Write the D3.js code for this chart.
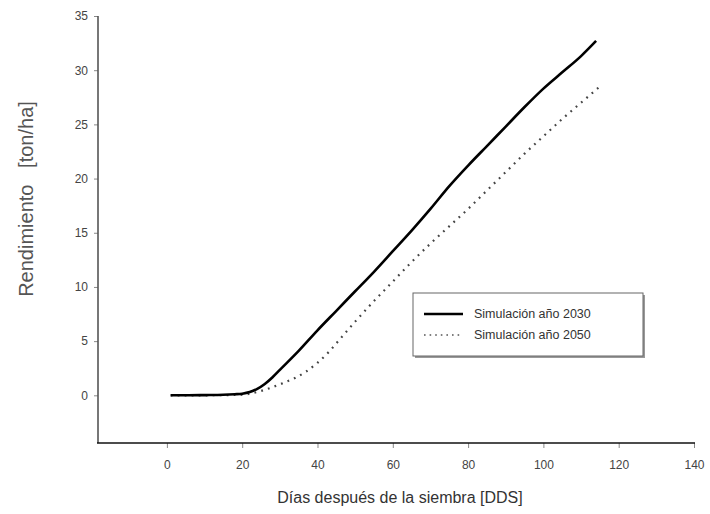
<!DOCTYPE html>
<html><head><meta charset="utf-8">
<script src="https://cdn.jsdelivr.net/npm/d3@7"></script>
<style>body{margin:0;background:#fff}</style>
</head><body>
<svg id="c" width="710" height="514"></svg>
<script>
const days2030 = [1,5,10,15,18,20,22,24,26,28,30,35,40,45,50,55,60,65,70,75,80,85,90,95,100,105,110,114];
const yield2030 = [0,0,0.02,0.05,0.1,0.15,0.3,0.6,1.05,1.65,2.35,4.1,6.0,7.8,9.6,11.4,13.3,15.2,17.2,19.3,21.2,23.0,24.8,26.6,28.3,29.8,31.3,32.7];
const days2050 = [1,5,10,15,20,22,25,28,31,34,37,40,43,46,50,55,60,65,70,75,80,85,90,95,100,105,110,115];
const yield2050 = [0,0,0,0.02,0.05,0.15,0.4,0.75,1.15,1.6,2.2,3.0,4.0,5.2,6.8,8.7,10.5,12.3,14.0,15.6,17.2,18.9,20.6,22.3,23.9,25.5,27.0,28.5];
const xTicks = [0,20,40,60,80,100,120,140];
const yTicks = [0,5,10,15,20,25,30,35];
const seriesNames = ["Simulación año 2030","Simulación año 2050"];

const svg = d3.select("#c");
const x = d3.scaleLinear().domain([-18.3,140]).range([98,694]);
const y = d3.scaleLinear().domain([-4.4,35]).range([443,16]);
const font = "Arial, 'Liberation Sans', sans-serif";

// y axis
const ya = svg.append("g").attr("transform","translate(98,0)")
  .call(d3.axisLeft(y).tickValues(yTicks).tickSize(4).tickPadding(6).tickSizeOuter(0));
ya.select(".domain").remove();
ya.selectAll(".tick line").attr("stroke","#888");
ya.selectAll(".tick text").attr("fill","#444").style("font-family",font).style("font-size","12px");
svg.append("line").attr("x1",98).attr("x2",98).attr("y1",y(35)).attr("y2",443)
  .attr("stroke","#555").attr("stroke-width",1.6);

// x axis
const xa = svg.append("g").attr("transform","translate(0,443)")
  .call(d3.axisBottom(x).tickValues(xTicks).tickSize(5).tickPadding(12).tickSizeOuter(0));
xa.select(".domain").remove();
xa.selectAll(".tick line").attr("stroke","#888");
xa.selectAll(".tick text").attr("fill","#444").style("font-family",font).style("font-size","12px");
svg.append("line").attr("x1",97).attr("x2",695).attr("y1",443).attr("y2",443)
  .attr("stroke","#111").attr("stroke-width",1.6);

// lines
const line = d3.line().x(d=>x(d[0])).y(d=>y(d[1])).curve(d3.curveMonotoneX);
svg.append("path").datum(days2050.map((d,i)=>[d,yield2050[i]]))
  .attr("d",line).attr("fill","none").attr("stroke","#444").attr("stroke-width",2.2)
  .attr("stroke-dasharray","1.8,5.2");
svg.append("path").datum(days2030.map((d,i)=>[d,yield2030[i]]))
  .attr("d",line).attr("fill","none").attr("stroke","#000").attr("stroke-width",2.6);

// legend
const lg = svg.append("g");
lg.append("rect").attr("x",415).attr("y",295).attr("width",230).attr("height",63)
  .attr("fill","#999");
lg.append("rect").attr("x",413).attr("y",293).attr("width",230).attr("height",63)
  .attr("fill","#fff").attr("stroke","#666").attr("stroke-width",1);
const ly = [314,335];
lg.append("line").attr("x1",424).attr("x2",463).attr("y1",ly[0]).attr("y2",ly[0])
  .attr("stroke","#000").attr("stroke-width",2.6);
lg.append("line").attr("x1",424).attr("x2",463).attr("y1",ly[1]).attr("y2",ly[1])
  .attr("stroke","#555").attr("stroke-width",1.6).attr("stroke-dasharray","1.6,4");
seriesNames.forEach((n,i)=>{
  lg.append("text").attr("x",474).attr("y",ly[i]+4).text(n)
    .attr("fill","#333").style("font-family",font).style("font-size","12.5px");
});

// titles
svg.append("text").attr("x",400).attr("y",503).attr("text-anchor","middle")
  .text("Días después de la siembra [DDS]").attr("fill","#333")
  .style("font-family",font).style("font-size","16px");
svg.append("text").attr("transform","translate(33,199) rotate(-90)").attr("text-anchor","middle")
  .attr("xml:space","preserve")
  .text("Rendimiento   [ton/ha]").attr("fill","#555")
  .style("font-family",font).style("font-size","20px");
</script>
</body></html>
